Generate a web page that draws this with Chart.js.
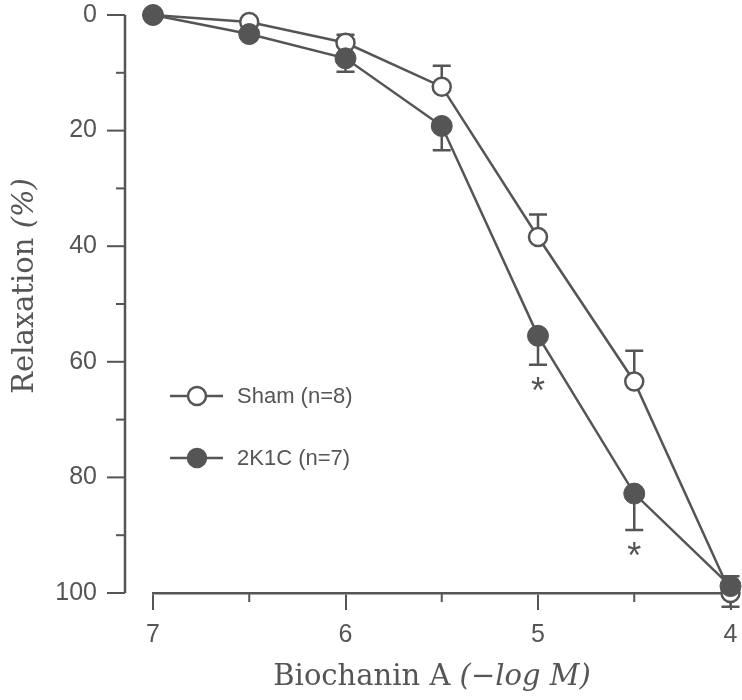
<!DOCTYPE html>
<html>
<head>
<meta charset="utf-8">
<script src="https://cdn.jsdelivr.net/npm/chart.js@4"></script>
<style>
  html, body { margin: 0; padding: 0; background: #fff; }
  #wrap { width: 742px; height: 700px; }
</style>
</head>
<body>
<div id="wrap"><canvas id="relaxChart" width="742" height="700"></canvas></div>
<script>
// 농도 (-log M)
const doses = [7, 6.5, 6, 5.5, 5, 4.5, 4];
// 이완율 (%)
const shamValues = [0, 1.2, 4.8, 12.4, 38.4, 63.4, 100];
const k2cValues = [0, 3.3, 7.5, 19.2, 55.5, 82.8, 98.8];
// 오차 (부호 = 방향, + 는 아래쪽)
const shamErr = [0, 0, -1.4, -3.6, -3.9, -5.3, 2.4];
const k2cErr = [0, 0, 2.3, 4.2, 5.0, 6.3, -1.7];
const k2cSig = ["", "", "", "", "*", "*", ""];
const seriesNames = ["Sham (n=8)", "2K1C (n=7)"];
const yTicks = [0, 20, 40, 60, 80, 100];
const yMinor = [10, 30, 50, 70, 90];
const xTicks = [7, 6, 5, 4];
const xMinor = [6.5, 5.5, 4.5];

const ink = "#555555";
const sans = "'Liberation Sans', Arial, sans-serif";
const serif = "'DejaVu Serif', 'Liberation Serif', serif";

const toPts = (vals) => doses.map((d, i) => ({ x: d, y: vals[i] }));

const extras = {
  id: "extras",
  beforeDatasetsDraw(chart) {
    const { ctx, scales: { x, y } } = chart;
    ctx.save();
    ctx.strokeStyle = ink;
    ctx.lineWidth = 2.5;
    // 오차 막대
    [[shamValues, shamErr], [k2cValues, k2cErr]].forEach(([vals, errs]) => {
      doses.forEach((d, i) => {
        if (!errs[i]) return;
        const px = x.getPixelForValue(d);
        const p0 = y.getPixelForValue(vals[i]);
        const p1 = y.getPixelForValue(vals[i] + errs[i]);
        ctx.beginPath();
        ctx.moveTo(px, p0); ctx.lineTo(px, p1);
        ctx.moveTo(px - 9, p1); ctx.lineTo(px + 9, p1);
        ctx.stroke();
      });
    });
    ctx.restore();
  },
  afterDraw(chart) {
    const { ctx, chartArea: a, scales: { x, y } } = chart;
    ctx.save();
    ctx.strokeStyle = ink;
    ctx.fillStyle = ink;
    ctx.lineWidth = 2.5;

    // y축 (떨어진 축)
    const ax = a.left - 28;
    ctx.beginPath();
    ctx.moveTo(ax, y.getPixelForValue(0));
    ctx.lineTo(ax, y.getPixelForValue(100));
    ctx.stroke();
    ctx.lineWidth = 2;
    yTicks.forEach(v => {
      const py = y.getPixelForValue(v);
      ctx.beginPath(); ctx.moveTo(ax - 18, py); ctx.lineTo(ax, py); ctx.stroke();
    });
    yMinor.forEach(v => {
      const py = y.getPixelForValue(v);
      ctx.beginPath(); ctx.moveTo(ax - 9, py); ctx.lineTo(ax, py); ctx.stroke();
    });
    xMinor.forEach(v => {
      const px = x.getPixelForValue(v);
      ctx.beginPath(); ctx.moveTo(px, a.bottom); ctx.lineTo(px, a.bottom + 9); ctx.stroke();
    });

    // 유의성 표시
    ctx.font = "36px " + sans;
    ctx.textAlign = "center";
    ctx.textBaseline = "alphabetic";
    doses.forEach((d, i) => {
      if (!k2cSig[i]) return;
      const py = y.getPixelForValue(k2cValues[i] + k2cErr[i]) + 38;
      ctx.fillText(k2cSig[i], x.getPixelForValue(d), py);
    });

    // 범례
    ctx.font = "22px " + sans;
    ctx.textAlign = "left";
    ctx.textBaseline = "middle";
    const fills = ["#ffffff", ink];
    seriesNames.forEach((name, i) => {
      const ly = 396 + i * 62;
      const lx = 170;
      ctx.lineWidth = 2.5;
      ctx.beginPath(); ctx.moveTo(lx, ly); ctx.lineTo(lx + 53, ly); ctx.stroke();
      ctx.beginPath(); ctx.arc(lx + 27, ly, 9, 0, Math.PI * 2);
      ctx.fillStyle = fills[i]; ctx.fill(); ctx.stroke();
      ctx.fillStyle = ink;
      ctx.fillText(name, 237, ly + 1);
    });

    // 축 제목
    const drawMixed = (parts, cx, cy) => {
      let total = 0;
      parts.forEach(p => { ctx.font = p[1] + " 29px " + serif; total += ctx.measureText(p[0]).width; });
      let cur = cx - total / 2;
      parts.forEach(p => {
        ctx.font = p[1] + " 29px " + serif;
        ctx.fillText(p[0], cur, cy);
        cur += ctx.measureText(p[0]).width;
      });
    };
    ctx.textBaseline = "alphabetic";
    drawMixed([["Biochanin A ", "normal"], ["(\u2212log M)", "italic"]], 432, 685);
    ctx.translate(33, 286);
    ctx.rotate(-Math.PI / 2);
    drawMixed([["Relaxation ", "normal"], ["(%)", "italic"]], 0, 0);
    ctx.restore();
  }
};

const ctx = document.getElementById("relaxChart").getContext("2d");
const relaxChart = new Chart(ctx, {
  type: "line",
  data: {
    datasets: [
      {
        label: seriesNames[0],
        data: toPts(shamValues),
        borderColor: ink,
        borderWidth: 2.5,
        backgroundColor: "#ffffff",
        pointBackgroundColor: "#ffffff",
        pointBorderColor: ink,
        pointBorderWidth: 2.5,
        pointRadius: 9,
        order: 1,
        clip: false,
      },
      {
        label: seriesNames[1],
        data: toPts(k2cValues),
        borderColor: ink,
        borderWidth: 2.5,
        backgroundColor: ink,
        pointBackgroundColor: ink,
        pointBorderColor: ink,
        pointBorderWidth: 1,
        pointRadius: 10.5,
        order: 0,
        clip: false,
      },
    ],
  },
  options: {
    responsive: false,
    animation: false,
    layout: { padding: { top: 15, right: 10, left: 0, bottom: 0 } },
    scales: {
      x: {
        type: "linear",
        min: 4,
        max: 7,
        reverse: true,
        afterBuildTicks: (s) => { s.ticks = xTicks.map(v => ({ value: v })); },
        afterFit: (s) => { s.height = 107; s.paddingLeft = 0; s.paddingRight = 0; },
        border: { color: ink, width: 2.5 },
        grid: { drawOnChartArea: false, color: ink, lineWidth: 2, tickLength: 17 },
        ticks: {
          color: ink,
          padding: 10,
          font: { family: sans, size: 25 },
        },
      },
      y: {
        min: 0,
        max: 100,
        reverse: true,
        afterBuildTicks: (s) => { s.ticks = yTicks.map(v => ({ value: v })); },
        afterFit: (s) => { s.width = 153; s.paddingTop = 0; s.paddingBottom = 0; },
        border: { display: false },
        grid: { display: false, drawTicks: false },
        ticks: {
          color: ink,
          padding: 56,
          font: { family: sans, size: 25 },
        },
      },
    },
    plugins: {
      legend: { display: false },
      tooltip: { enabled: false },
    },
  },
  plugins: [extras],
});
</script>
</body>
</html>
